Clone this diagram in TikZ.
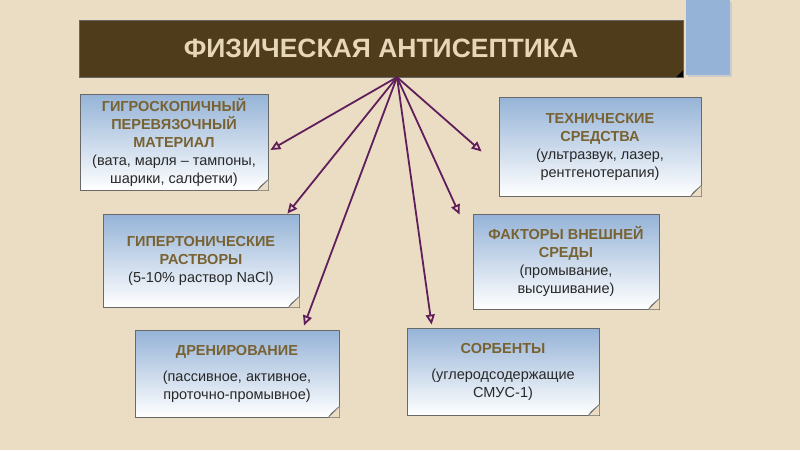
\documentclass[tikz,border=0pt]{standalone}
\usepackage{fontspec}
\setmainfont{Liberation Sans}
\usetikzlibrary{arrows.meta,calc}

\definecolor{bgsand}{RGB}{234,221,196}
\definecolor{barbrown}{RGB}{79,60,27}
\definecolor{titletxt}{RGB}{232,214,184}
\definecolor{tabblue}{RGB}{149,179,215}
\definecolor{cardtop}{RGB}{149,179,215}
\definecolor{cardline}{RGB}{105,105,105}
\definecolor{foldgray}{RGB}{215,215,215}
\definecolor{headtxt}{RGB}{120,98,50}
\definecolor{bodytxt}{RGB}{40,40,40}
\definecolor{linkcol}{RGB}{96,30,90}

\newcommand{\hdr}[1]{{\bfseries\color{headtxt}#1}}

\begin{document}
\begin{tikzpicture}[x=1pt, y=-1pt,
  card/.style={draw=cardline, line width=0.8pt, top color=cardtop, bottom color=white,
    inner sep=0pt, align=center, text=bodytxt, font=\fontsize{14.5}{18}\selectfont},
  link/.style={draw=linkcol, line width=1.8pt, -{Triangle[open, length=10pt, width=9pt]}},
]

  % -- Background --
  \fill[bgsand] (0,0) rectangle (800,450);
  \useasboundingbox (0,0) rectangle (800,450);

  % -- Blue tab --
  \fill[black!20] (688,2) rectangle (732,77);
  \fill[tabblue] (686,0) rectangle (730,75);

  % -- Title bar --
  \node[fill=barbrown, draw=black!60, minimum width=604pt, minimum height=57pt, text=titletxt,
    font=\fontsize{26.5}{30}\selectfont\bfseries] (title) at (381,48.5) {ФИЗИЧЕСКАЯ АНТИСЕПТИКА};
  \fill[black] (title.south east) -- ++(-7,0) -- ++(7,-7) -- cycle;

  % -- Cards --
  \node[card, minimum width=188pt, minimum height=96pt] (hygro) at (174,142)
    {\hdr{ГИГРОСКОПИЧНЫЙ}\\ \hdr{ПЕРЕВЯЗОЧНЫЙ}\\ \hdr{МАТЕРИАЛ}\\ (вата, марля – тампоны,\\ шарики, салфетки)};
  \node[card, minimum width=202pt, minimum height=99pt] (tech) at (600,146.5)
    {\hdr{ТЕХНИЧЕСКИЕ}\\ \hdr{СРЕДСТВА}\\ (ультразвук, лазер,\\ рентгенотерапия)};
  \node[card, minimum width=196pt, minimum height=93pt] (hyper) at (201,260.5)
    {\hdr{ГИПЕРТОНИЧЕСКИЕ}\\ \hdr{РАСТВОРЫ}\\ (5-10\% раствор NaCl)};
  \node[card, minimum width=186pt, minimum height=95pt] (env) at (566,261.5)
    {\hdr{ФАКТОРЫ ВНЕШНЕЙ}\\ \hdr{СРЕДЫ}\\ (промывание,\\ высушивание)};
  \node[card, minimum width=204pt, minimum height=87pt] (drain) at (237,373.5)
    {\hdr{ДРЕНИРОВАНИЕ}\\[8pt] (пассивное, активное,\\ проточно-промывное)};
  \node[card, minimum width=192pt, minimum height=87pt] (sorb) at (503,371.5)
    {\hdr{СОРБЕНТЫ}\\[8pt] (углеродсодержащие\\ СМУС-1)};

  % -- Folded corners --
  \foreach \c in {hygro, tech, hyper, env, drain, sorb} {
    \fill[bgsand] (\c.south east) -- ++(-11,0) -- ++(11,-11) -- cycle;
    \filldraw[draw=cardline, fill=foldgray, line width=0.6pt, line join=round]
      ($(\c.south east)+(-11,0)$) -- ($(\c.south east)+(0,-11)$) -- ($(\c.south east)+(-8,-4)$) -- cycle;
  }

  % -- Arrow ends --
  \coordinate (hub) at ($(title.south)+(16,0)$);
  \coordinate (e1) at ($(hygro.east)+(2,8)$);
  \coordinate (e2) at ($(tech.west)+(-17,5)$);
  \coordinate (e3) at ($(hyper.north east)+(-12,0)$);
  \coordinate (e4) at ($(drain.north)+(67,-4)$);
  \coordinate (e5) at ($(sorb.north west)+(25,-3)$);
  \coordinate (e6) at ($(env.north west)+(-13,1)$);

  % -- Arrows --
  \foreach \e in {e1, e2, e3, e4, e5, e6}
    \draw[link] (hub) -- (\e);

\end{tikzpicture}
\end{document}
